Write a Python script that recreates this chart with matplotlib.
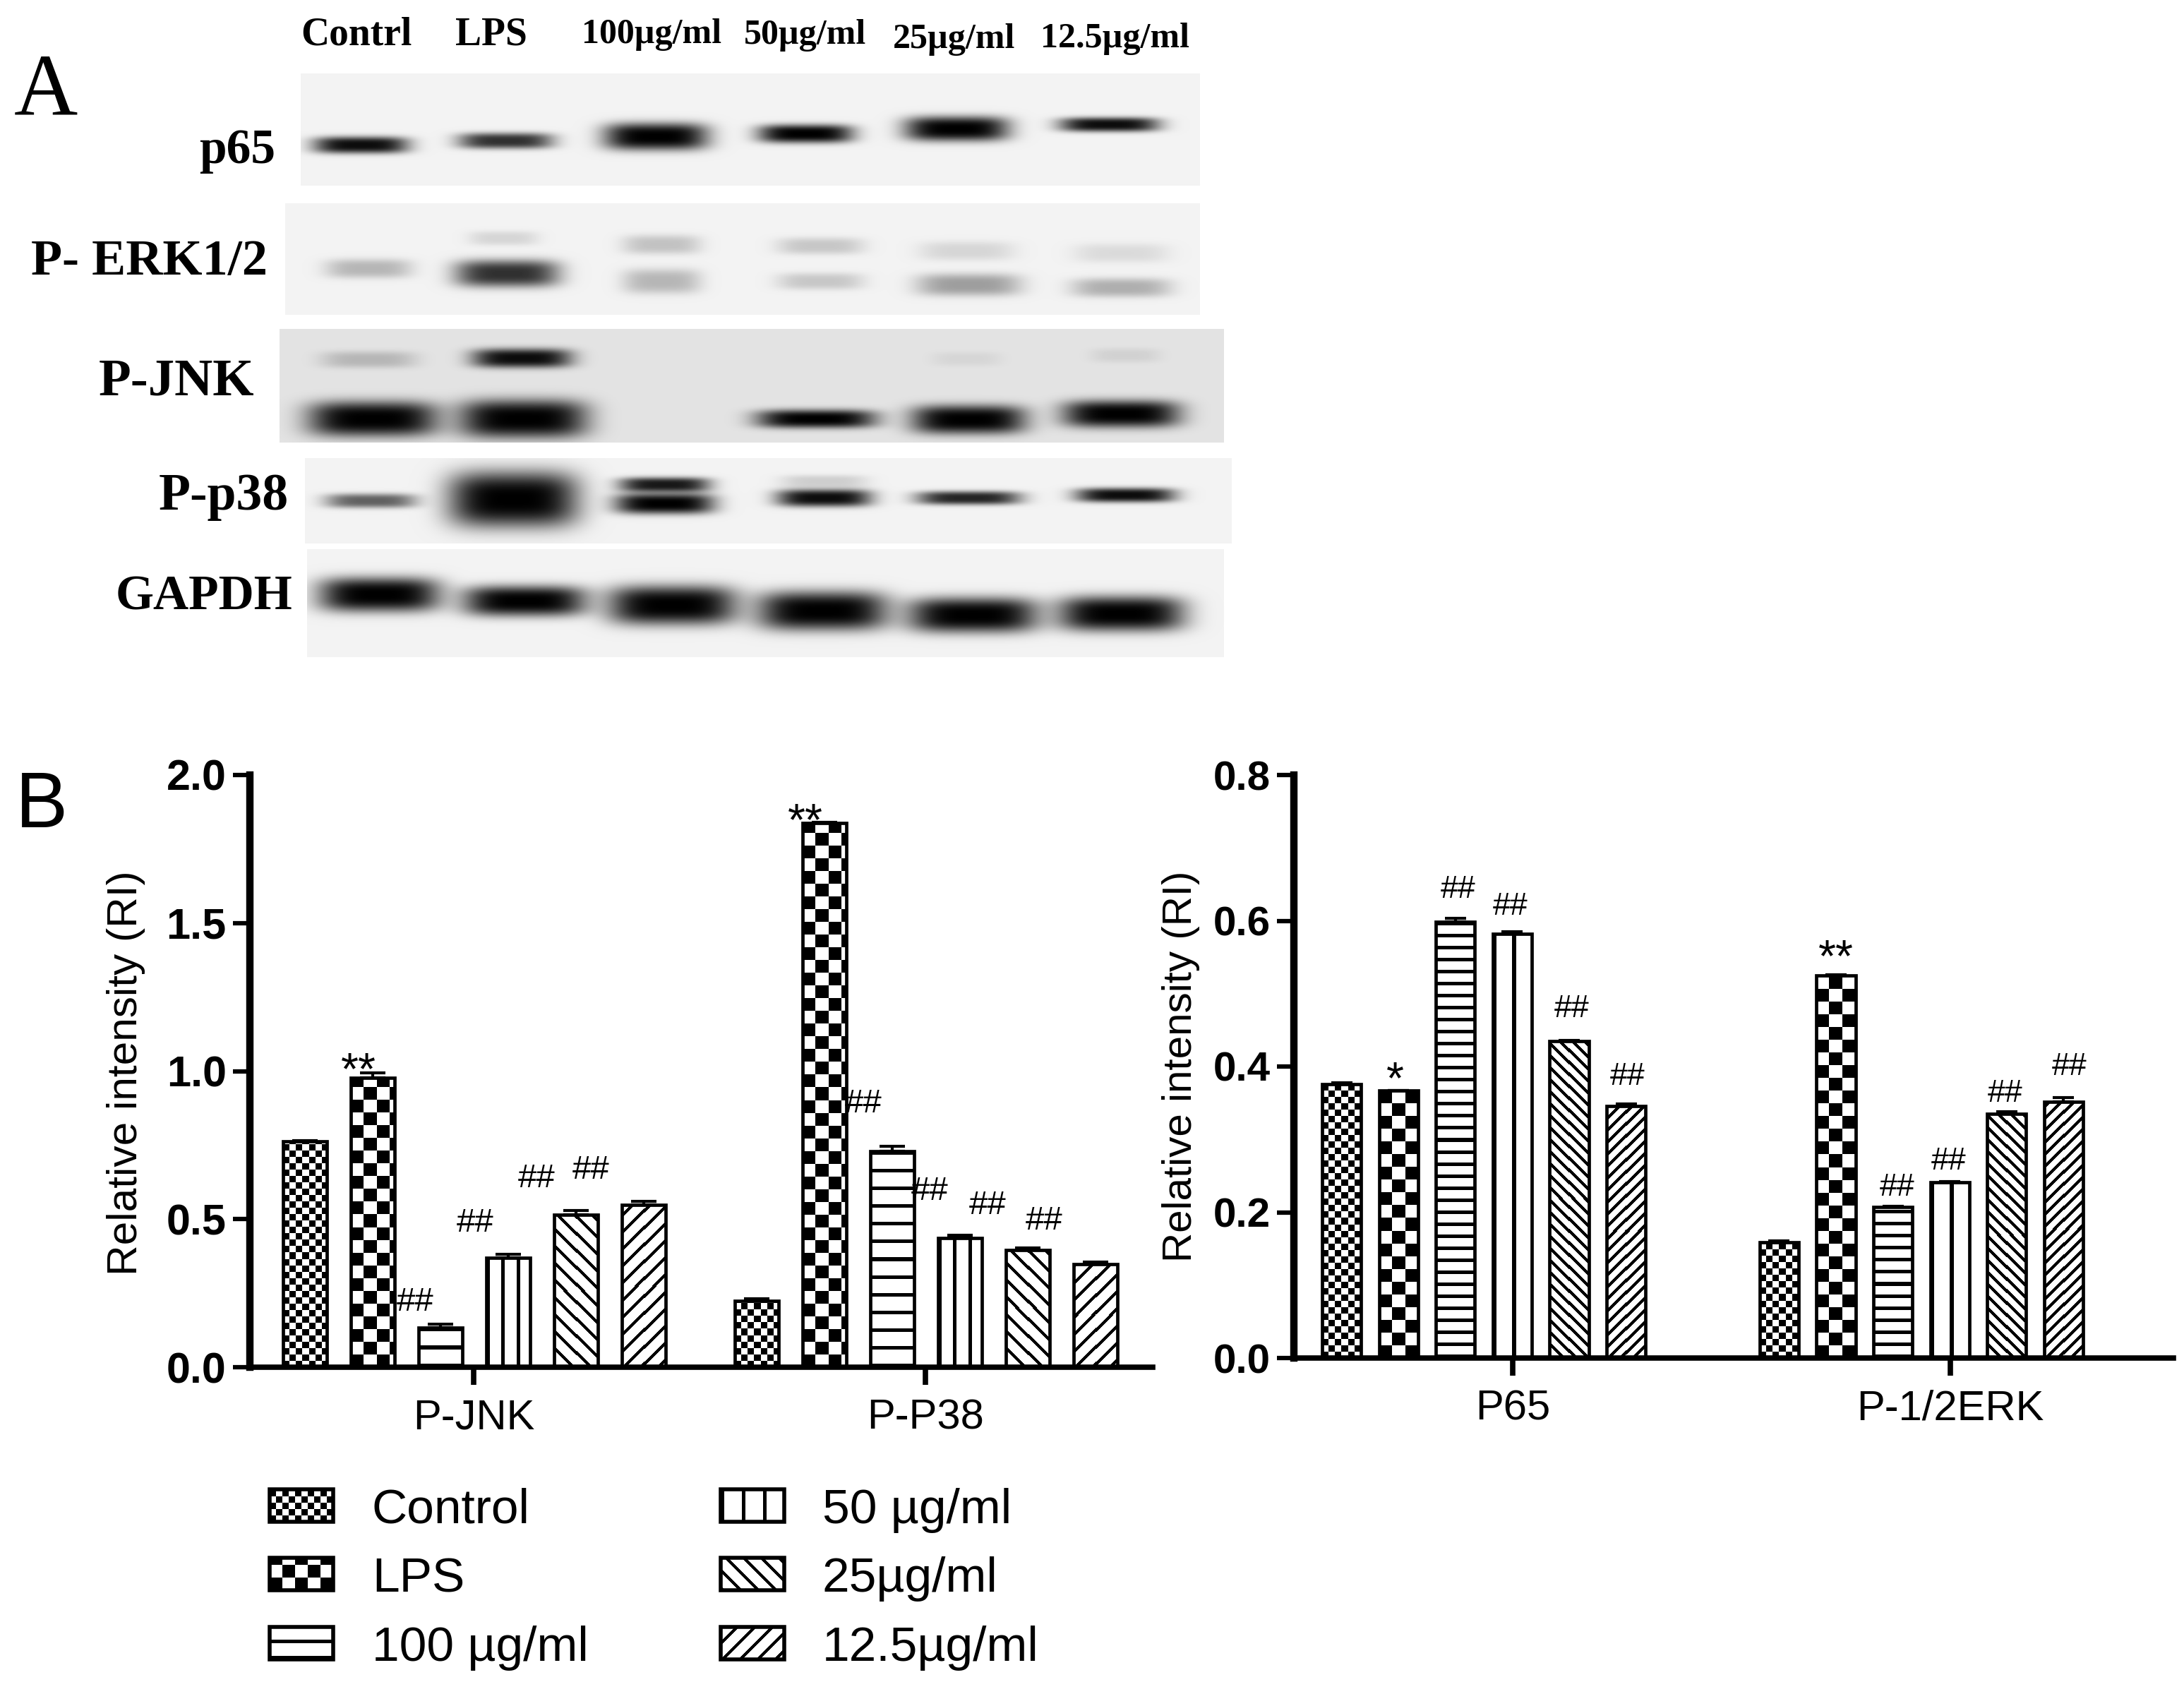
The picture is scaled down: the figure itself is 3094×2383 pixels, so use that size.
import numpy as np
import matplotlib
matplotlib.use('Agg')
import matplotlib.pyplot as plt
from matplotlib.patches import Rectangle

plt.rcParams['font.family'] = ['Liberation Sans', 'DejaVu Sans']

W, H = 3094, 2383

# panel B data
series = ['Control', 'LPS', '100 µg/ml', '50 µg/ml', '25µg/ml', '12.5µg/ml']
kinds = ['control', 'lps', 'hline', 'vline', 'up', 'down']

left_groups = ['P-JNK', 'P-P38']
left_vals = [[0.764, 0.977, 0.134, 0.370, 0.514, 0.548],
             [0.224, 1.839, 0.730, 0.437, 0.396, 0.349]]
left_errs = [[0.002, 0.018, 0.011, 0.012, 0.015, 0.011],
             [0.008, 0.002, 0.015, 0.009, 0.008, 0.005]]
left_note_text = ['##', '##', '##', '##', '##', '##', '##', '##', '**', '**']
left_note_x = [-0.130, 0.004, 0.139, 0.259, 0.862, 1.010, 1.138, 1.262, -0.254, 0.735]
left_note_y = [0.190, 0.457, 0.609, 0.636, 0.860, 0.566, 0.517, 0.464, 0.956, 1.796]

right_groups = ['P65', 'P-1/2ERK']
right_vals = [[0.376, 0.367, 0.599, 0.582, 0.435, 0.346],
              [0.159, 0.525, 0.207, 0.241, 0.335, 0.352]]
right_errs = [[0.002, 0.000, 0.004, 0.003, 0.001, 0.003],
              [0.002, 0.001, 0.001, 0.001, 0.003, 0.005]]
right_note_text = ['*', '##', '##', '##', '##', '##', '##', '##', '##', '**']
right_note_x = [-0.269, -0.125, -0.005, 0.135, 0.263, 0.878, 0.997, 1.126, 1.272, 0.738]
right_note_y = [0.363, 0.631, 0.608, 0.468, 0.375, 0.223, 0.259, 0.352, 0.388, 0.531]

# panel A: blot strips, (x0, x1, y0, y1, background)
blot_boxes = [(426, 1700, 104, 263, 0.95),
              (404, 1700, 288, 446, 0.95),
              (396, 1734, 466, 627, 0.89),
              (432, 1745, 649, 770, 0.95),
              (435, 1734, 778, 931, 0.95)]
# bands for each strip, (cx, cy, w, h, darkness)
blot_bands = [
    [(511, 205, 123, 21, .95), (716, 199, 123, 20, .8), (929, 193, 135, 34, 1),
     (1141, 189, 123, 23, 1), (1355, 182, 135, 31, 1), (1571, 176, 129, 18, .95)],
    [(522, 380, 112, 24, .25), (718, 387, 135, 34, .8), (713, 337, 90, 18, .12),
     (937, 346, 101, 24, .2), (937, 398, 101, 31, .25), (1162, 348, 112, 21, .18),
     (1162, 398, 112, 21, .18), (1369, 355, 123, 24, .12), (1372, 403, 135, 28, .35),
     (1588, 358, 123, 24, .1), (1588, 407, 129, 24, .28)],
    [(522, 509, 123, 21, .2), (739, 507, 129, 24, .95), (528, 593, 168, 44, 1),
     (741, 593, 166, 48, 1), (1156, 593, 155, 23, 1), (1372, 594, 148, 36, 1),
     (1588, 586, 152, 34, 1), (1369, 508, 90, 18, .06), (1594, 503, 90, 18, .08)],
    [(525, 709, 118, 18, .6), (727, 707, 168, 70, 1), (941, 686, 118, 18, .9),
     (941, 713, 129, 26, 1), (1167, 705, 123, 22, .95), (1167, 681, 112, 15, .15),
     (1372, 705, 135, 17, .85), (1594, 701, 129, 18, .95)],
    [(537, 842, 157, 43, 1), (743, 851, 159, 38, 1), (952, 857, 166, 49, 1),
     (1165, 865, 168, 49, 1), (1378, 871, 168, 44, 1), (1588, 869, 163, 44, 1)],
]
lane_text = ['Contrl', 'LPS', '100µg/ml', '50µg/ml', '25µg/ml', '12.5µg/ml']
lane_x = [505, 696, 923, 1141, 1352, 1580]
lane_y = [49, 49, 49, 50, 56, 55]
lane_size = [40, 40, 36, 36, 36, 36]
row_text = ['p65', 'P- ERK1/2', 'P-JNK', 'P-p38', 'GAPDH']
row_x = [336, 211, 250, 317, 289]
row_y = [214, 372, 541, 704, 846]
row_size = [50, 52, 54, 53, 50]


def pattern(kind, w, h, hs, vs, ds):
    # 1 = white, 0 = black
    y, x = np.mgrid[:h, :w]
    if kind == 'control':
        return ((x // 9 + y // 9) % 2).astype(float)
    if kind == 'lps':
        return ((x // 18 + y // 18) % 2).astype(float)
    if kind == 'hline':
        return (y % hs >= 5).astype(float)
    if kind == 'vline':
        return (x % vs >= 5).astype(float)
    if kind == 'up':
        return ((x + y) % ds >= 6).astype(float)
    return ((x - y) % ds >= 6).astype(float)


def fill(ax, x0, x1, y0, y1, kind, w, h, hs, vs, ds):
    ax.imshow(pattern(kind, max(w, 1), max(h, 1), hs, vs, ds), cmap='gray', vmin=0, vmax=1,
              extent=(x0, x1, y0, y1), origin='lower', aspect='auto',
              interpolation='nearest', zorder=2)


def bar_panel(rect, ymax, yticks, groups, vals, errs, offset0, pitch, width, xlim,
              spacing, capsize, tick_size, note_size,
              note_text, note_x, note_y, label_coords, label_size):
    x0, x1, y0, y1 = rect
    ax = fig.add_axes([x0 / W, 1 - y1 / H, (x1 - x0) / W, (y1 - y0) / H])
    ax.set_xlim(*xlim)
    ax.set_ylim(0, ymax)
    sx = (x1 - x0) / (xlim[1] - xlim[0])
    sy = (y1 - y0) / ymax
    for g in range(len(groups)):
        for i, kind in enumerate(kinds):
            xc = g + offset0 + i * pitch
            v = vals[g][i]
            fill(ax, xc - width / 2, xc + width / 2, 0, v, kind,
                 int(width * sx), int(v * sy), *spacing)
            ax.bar(xc, v, width, fill=False, edgecolor='black', linewidth=3.4, zorder=3)
            ax.errorbar(xc, v, yerr=[[0], [errs[g][i]]], color='black', elinewidth=3,
                        capsize=capsize, capthick=3, zorder=3)
    ax.set_xlim(*xlim)
    ax.set_ylim(0, ymax)
    for s in ['top', 'right']:
        ax.spines[s].set_visible(False)
    ax.spines['left'].set_linewidth(7.5)
    ax.spines['bottom'].set_linewidth(5.5)
    ax.set_xticks(range(len(groups)), groups, fontsize=43)
    ax.set_yticks(yticks, ['%.1f' % t for t in yticks], fontsize=tick_size, fontweight='bold')
    ax.tick_params(axis='y', length=17, width=4.5, pad=7)
    ax.tick_params(axis='x', length=18, width=5.5, pad=14)
    ax.set_ylabel('Relative intensity (RI)', fontsize=label_size)
    ax.yaxis.set_label_coords(*label_coords)
    for t, nx, ny in zip(note_text, note_x, note_y):
        size = note_size if '#' in t else 46
        ax.text(nx, ny, t, fontsize=size, ha='center', va='baseline', zorder=4)
    return ax


fig = plt.figure(figsize=(W / 100, H / 100), dpi=100)

# overlay in reference pixels for the blot, panel letters and legend
over = fig.add_axes([0, 0, 1, 1])
over.axis('off')
for (x0, x1, y0, y1, bg), bands in zip(blot_boxes, blot_bands):
    yy, xx = np.mgrid[y0:y1, x0:x1]
    dark = np.zeros(xx.shape)
    for cx, cy, bw, bh, d in bands:
        r = np.abs((xx - cx) / (bw / 2)) ** 4 + np.abs((yy - cy) / (bh / 2)) ** 3
        dark = dark + d * np.exp(-0.7 * r)
    img = bg * (1 - np.clip(dark, 0, 1))
    over.imshow(img, cmap='gray', vmin=0, vmax=1, extent=(x0, x1, y1, y0),
                aspect='auto', interpolation='bilinear')
for t, x, y, s in zip(lane_text, lane_x, lane_y, lane_size):
    over.text(x, y, t, family='Liberation Serif', fontweight='bold', fontsize=s,
              ha='center', va='center')
for t, x, y, s in zip(row_text, row_x, row_y, row_size):
    over.text(x, y, t, family='Liberation Serif', fontweight='bold', fontsize=s,
              ha='center', va='center')
over.text(65, 162, 'A', family='Liberation Serif', fontsize=90, ha='center', va='baseline')
over.text(22, 1172, 'B', fontsize=80, ha='left', va='baseline')

# legend
swatch_x = [382, 382, 382, 1021, 1021, 1021]
swatch_y = [2110, 2207, 2305, 2110, 2207, 2305]
text_x = [527, 527, 527, 1165, 1165, 1165]
for i, kind in enumerate(kinds):
    sx0, sy0 = swatch_x[i], swatch_y[i]
    fill(over, sx0, sx0 + 90, sy0 + 46, sy0, kind, 90, 46, 23, 30, 25)
    over.add_patch(Rectangle((sx0, sy0), 90, 46, fill=False, edgecolor='black',
                             linewidth=4, zorder=3))
    over.text(text_x[i], sy0 + 48, series[i], fontsize=50, ha='left', va='baseline')
over.set_xlim(0, W)
over.set_ylim(H, 0)

bar_panel((354, 1633, 1098, 1937), 2.0, [0.0, 0.5, 1.0, 1.5, 2.0], left_groups, left_vals,
          left_errs, -0.373, 0.150, 0.097, (-0.495, 1.503), (25, 21, 24), 13, 44, 34,
          left_note_text, left_note_x, left_note_y, (-0.116, 0.497), 43.5)
bar_panel((1833, 3079, 1098, 1924), 0.8, [0.0, 0.2, 0.4, 0.6, 0.8], right_groups, right_vals,
          right_errs, -0.391, 0.130, 0.089, (-0.5, 1.51), (17, 27, 17), 11, 42, 32,
          right_note_text, right_note_x, right_note_y, (-0.107, 0.5), 42)

fig.savefig('out.png', dpi=100)
